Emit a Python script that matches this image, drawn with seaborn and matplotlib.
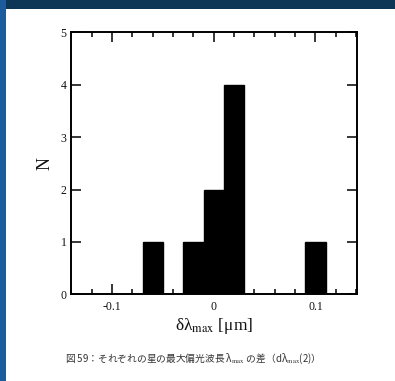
import numpy as np
import pandas as pd
import matplotlib
matplotlib.use("Agg")
import matplotlib.pyplot as plt
from matplotlib.patches import Rectangle
from matplotlib.ticker import MultipleLocator
import seaborn as sns

# Histogram of the max-polarisation wavelength difference
bin_centers = [-0.06, -0.02, 0.00, 0.02, 0.10]   # µm
counts = [1, 1, 2, 4, 1]
bin_edges = [round(v, 3) for v in np.arange(-0.13, 0.1301, 0.02)]
x_ticks = [-0.1, 0.0, 0.1]
x_tick_labels = ["-0.1", "0", "0.1"]
y_ticks = [0, 1, 2, 3, 4, 5]
caption = "図 59：それぞれの星の最大偏光波長 λ$_{\\rm max}$ の差（dλ$_{\\rm max}$(2)）"

df = pd.DataFrame({"delta": bin_centers, "n": counts})

sns.set_theme(style="white")
plt.rcParams["font.family"] = ["Liberation Serif", "DejaVu Serif"]
plt.rcParams["mathtext.fontset"] = "stix"

fig = plt.figure(figsize=(3.95, 3.81), dpi=100, facecolor="white")
# slide frame: dark strip on top, blue strip on the left
fig.patches.append(Rectangle((0, 1 - 9 / 381), 1, 9 / 381, transform=fig.transFigure,
                             facecolor="#0c3556", edgecolor="none", zorder=0))
fig.patches.append(Rectangle((0, 0), 6 / 395, 1, transform=fig.transFigure,
                             facecolor="#1c5b9c", edgecolor="none", zorder=0))

ax = fig.add_axes([0.179, 0.2276, 0.724, 0.6874])
ax.set_facecolor("white")

sns.histplot(data=df, x="delta", weights="n", bins=bin_edges, ax=ax,
             color="black", edgecolor="black", linewidth=1.0, alpha=1.0, zorder=3)

ax.set_xlim(-0.1406, 0.1406)
ax.set_ylim(0, 5)
ax.set_xticks(x_ticks)
ax.set_xticklabels(x_tick_labels)
ax.xaxis.set_minor_locator(MultipleLocator(0.02))
ax.set_yticks(y_ticks)

for s in ax.spines.values():
    s.set_visible(True)
    s.set_color("black")
    s.set_linewidth(1.4)
    s.set_zorder(4)

ax.tick_params(axis="both", which="major", direction="in", length=7, width=1.1,
               color="black", labelsize=8.5, labelcolor="#111111",
               top=True, right=True, bottom=True, left=True)
ax.tick_params(axis="x", which="minor", direction="in", length=3.6, width=1.1,
               color="black", top=True, bottom=True)
ax.tick_params(axis="x", which="major", pad=5)
ax.tick_params(axis="y", which="major", pad=3)

ax.set_xlabel("δλ$_{\\rm max}$ [μm]", fontsize=12.5, labelpad=2, color="#111111")
ax.set_ylabel("N", fontsize=13, labelpad=5, color="#111111")

fig.text(0.481, 0.0577, caption, ha="center", va="center", fontsize=7,
         color="#333333", family=["Noto Sans CJK JP", "DejaVu Sans"])

fig.savefig("out.png", dpi=100, facecolor=fig.get_facecolor())
